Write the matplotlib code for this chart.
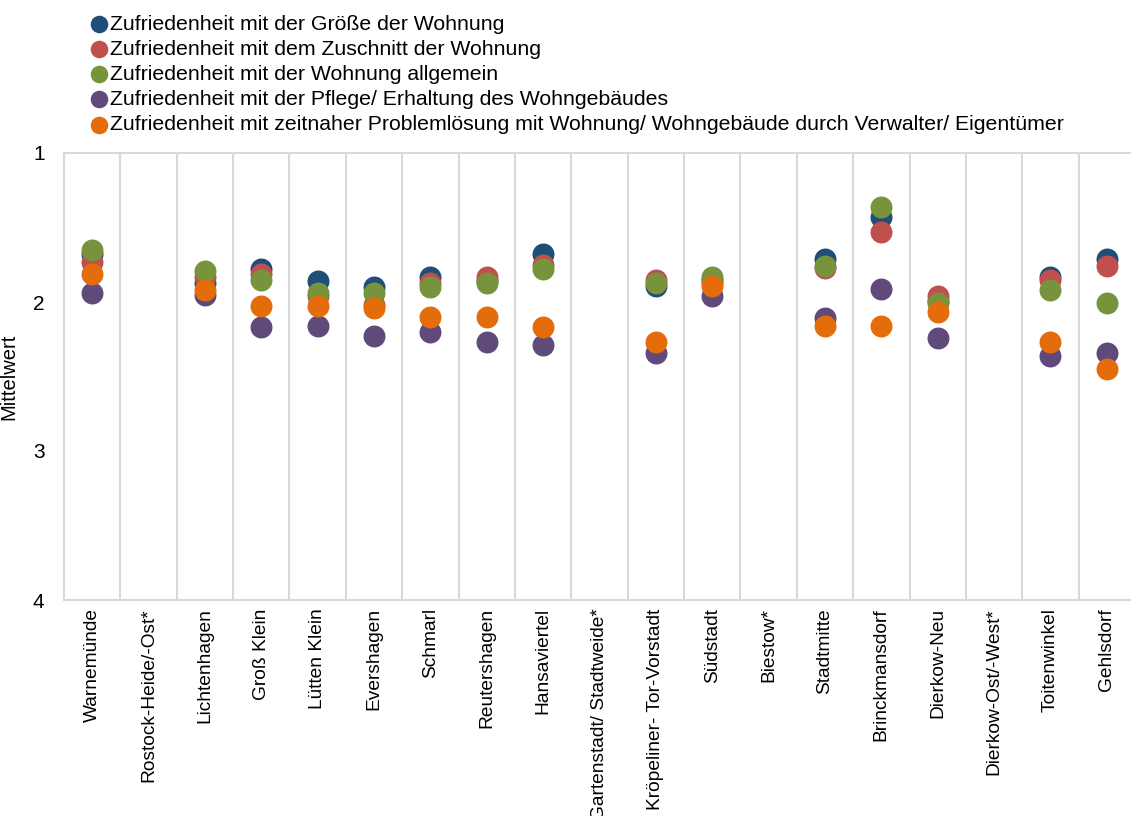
import matplotlib
matplotlib.use("Agg")
import matplotlib.pyplot as plt
import numpy as np

plt.rcParams['font.family'] = ['Liberation Sans', 'DejaVu Sans']

districts = ["Warnemünde", "Rostock-Heide/-Ost*", "Lichtenhagen", "Groß Klein", "Lütten Klein",
             "Evershagen", "Schmarl", "Reutershagen", "Hansaviertel", "Gartenstadt/ Stadtweide*",
             "Kröpeliner- Tor-Vorstadt", "Südstadt", "Biestow*", "Stadtmitte", "Brinckmansdorf",
             "Dierkow-Neu", "Dierkow-Ost/-West*", "Toitenwinkel", "Gehlsdorf"]

nan = np.nan
groesse = [1.68, nan, 1.87, 1.78, 1.86, 1.90, 1.83, 1.86, 1.68, nan, 1.89, 1.85, nan, 1.71, 1.43, 1.99, nan, 1.83, 1.71]
zuschnitt = [1.73, nan, 1.83, 1.81, 1.96, 2.02, 1.87, 1.83, 1.75, nan, 1.85, 1.87, nan, 1.77, 1.53, 1.96, nan, 1.85, 1.76]
allgemein = [1.65, nan, 1.79, 1.85, 1.94, 1.94, 1.90, 1.87, 1.78, nan, 1.87, 1.83, nan, 1.76, 1.36, 2.01, nan, 1.92, 2.01]
pflege = [1.94, nan, 1.95, 2.17, 2.16, 2.23, 2.20, 2.27, 2.29, nan, 2.34, 1.96, nan, 2.11, 1.91, 2.24, nan, 2.36, 2.34]
problem = [1.81, nan, 1.92, 2.03, 2.03, 2.04, 2.10, 2.10, 2.17, nan, 2.27, 1.89, nan, 2.16, 2.16, 2.07, nan, 2.27, 2.45]

series = [
    ("Zufriedenheit mit der Größe der Wohnung", groesse, "#1F4E79"),
    ("Zufriedenheit mit dem Zuschnitt der Wohnung", zuschnitt, "#C0504D"),
    ("Zufriedenheit mit der Wohnung allgemein", allgemein, "#77933C"),
    ("Zufriedenheit mit der Pflege/ Erhaltung des Wohngebäudes", pflege, "#604A7B"),
    ("Zufriedenheit mit zeitnaher Problemlösung mit Wohnung/ Wohngebäude durch Verwalter/ Eigentümer", problem, "#E46C0A"),
]

fig = plt.figure(figsize=(11.31, 8.16), dpi=100)
ax = fig.add_axes([64 / 1131, 216 / 816, 1071 / 1131, 447 / 816])

x = np.arange(len(districts))
for label, vals, color in series:
    ax.scatter(x, vals, s=250, color=color, label=label, zorder=3, linewidths=0)

ax.set_xlim(-0.5, len(districts) - 0.5)
ax.set_ylim(4, 1)
ax.set_yticks([1, 2, 3, 4])
ax.set_xticks(x)
ax.set_xticklabels(districts, rotation=90, va="top", ha="center")
ax.tick_params(axis="x", length=0, labelsize=13.8, pad=6)
ax.tick_params(axis="y", length=0, labelsize=15, pad=14)

# vertical separators between districts
for b in np.arange(0.5, len(districts) - 0.5, 1):
    ax.axvline(b, color="#D9D9D9", lw=1.5, zorder=1)
for sp in ax.spines.values():
    sp.set_color("#D9D9D9")
    sp.set_linewidth(1.5)

ax.set_ylabel("Mittelwert", fontsize=14.5)
ax.yaxis.set_label_coords(-0.043, 0.5)

handles, labels = ax.get_legend_handles_labels()
fig.legend(handles, labels, loc="upper left", bbox_to_anchor=(76 / 1131, 1.003),
           frameon=False, fontsize=15.3, handlelength=0.55, handletextpad=0.25,
           labelspacing=0.29, borderaxespad=0.4, markerscale=0.8)

fig.savefig("out.png", dpi=100)
